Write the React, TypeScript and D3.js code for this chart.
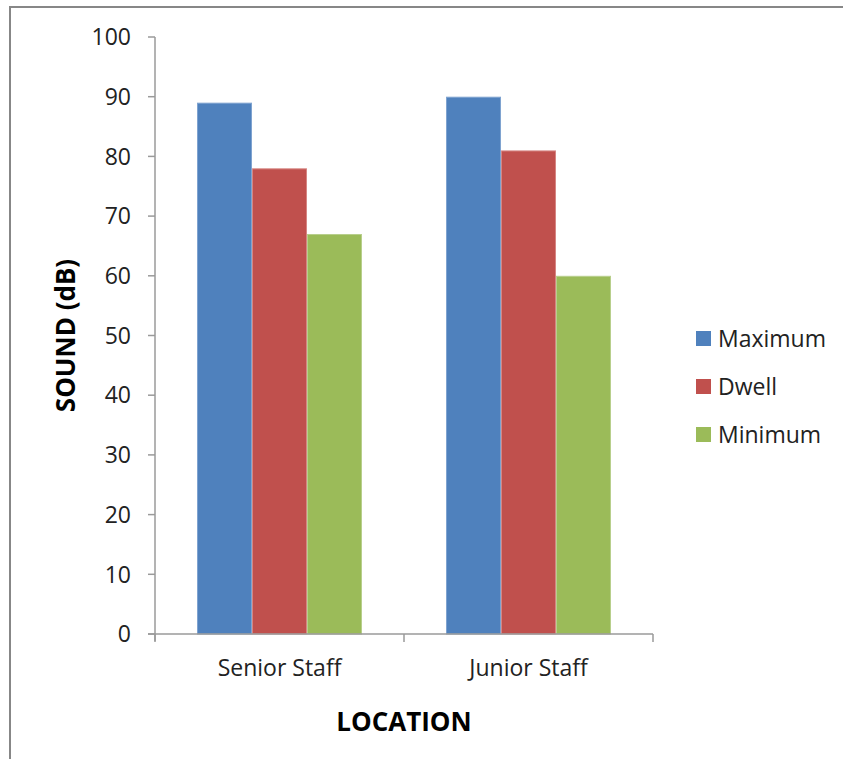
import React from "react";
import * as d3 from "d3";

const categories = ["Senior Staff", "Junior Staff"];
const seriesNames = ["Maximum", "Dwell", "Minimum"];
const maximumValues = [89, 90];
const dwellValues = [78, 81];
const minimumValues = [67, 60];
const yTicks = [0, 10, 20, 30, 40, 50, 60, 70, 80, 90, 100];

const seriesColors = ["#4F81BD", "#C0504D", "#9BBB59"];
const seriesEdges = ["#7FA3D0", "#D68683", "#B8CF8C"];

const W = 843;
const H = 759;
const FONT = "'Open Sans', 'Noto Sans', sans-serif";

export default function App() {
  const seriesValues = [maximumValues, dwellValues, minimumValues];

  const x0 = d3.scaleBand<string>().domain(categories).range([155, 653]).padding(0);
  const x1 = d3
    .scaleBand<string>()
    .domain(seriesNames)
    .range([0, x0.bandwidth()])
    .paddingInner(0)
    .paddingOuter(0.764);
  const y = d3.scaleLinear().domain([0, 100]).range([634, 37]);

  const axisColor = "#9A9A9A";
  const xLeft = x0.range()[0];
  const xRight = x0.range()[1];

  return (
    <svg
      width={W}
      height={H}
      style={{ position: "absolute", left: 0, top: 0, background: "#fff" }}
      fontFamily={FONT}
    >
      {/* chart frame */}
      <rect x={10} y={7} width={W + 10} height={H + 10} fill="#fff" stroke="#878787" strokeWidth={2} />

      {/* bars */}
      {categories.map((cat, ci) => (
        <g key={cat} transform={`translate(${x0(cat)},0)`}>
          {seriesNames.map((s, si) => {
            const v = seriesValues[si][ci];
            return (
              <rect
                key={s}
                x={x1(s)! + 0.5}
                y={y(v) + 0.5}
                width={x1.bandwidth() - 1}
                height={y(0) - y(v) - 0.5}
                fill={seriesColors[si]}
                stroke={seriesEdges[si]}
                strokeWidth={1}
              />
            );
          })}
        </g>
      ))}

      {/* y axis */}
      <line x1={xLeft} x2={xLeft} y1={y(100)} y2={y(0) + 7} stroke={axisColor} strokeWidth={1.5} />
      {yTicks.map((t) => (
        <g key={t}>
          <line x1={xLeft - 7} x2={xLeft} y1={y(t)} y2={y(t)} stroke={axisColor} strokeWidth={1.5} />
          <text
            x={131}
            y={y(t)}
            dy="0.36em"
            textAnchor="end"
            fontSize={23}
            fill="#222"
          >
            {t}
          </text>
        </g>
      ))}

      {/* x axis */}
      <line x1={xLeft - 7} x2={xRight} y1={y(0)} y2={y(0)} stroke={axisColor} strokeWidth={1.5} />
      {[xLeft, xLeft + x0.step(), xRight].map((tx, i) => (
        <line key={i} x1={tx} x2={tx} y1={y(0)} y2={y(0) + 8} stroke={axisColor} strokeWidth={1.5} />
      ))}
      {categories.map((cat) => (
        <text
          key={cat}
          x={x0(cat)! + x0.bandwidth() / 2}
          y={676}
          textAnchor="middle"
          fontSize={23}
          fill="#222"
        >
          {cat}
        </text>
      ))}

      {/* axis titles */}
      <text x={(xLeft + xRight) / 2} y={731} textAnchor="middle" fontSize={26} fontWeight="bold" fill="#000">
        LOCATION
      </text>
      <text
        transform={`translate(75,${(y(0) + y(100)) / 2}) rotate(-90)`}
        textAnchor="middle"
        fontSize={26}
        fontWeight="bold"
        fill="#000"
      >
        SOUND (dB)
      </text>

      {/* legend */}
      {seriesNames.map((s, i) => {
        const cy = 338.5 + i * 48;
        return (
          <g key={s}>
            <rect x={696} y={cy - 7.5} width={15} height={15} fill={seriesColors[i]} />
            <text x={718} y={cy + 8} fontSize={23} fill="#222">
              {s}
            </text>
          </g>
        );
      })}
    </svg>
  );
}
